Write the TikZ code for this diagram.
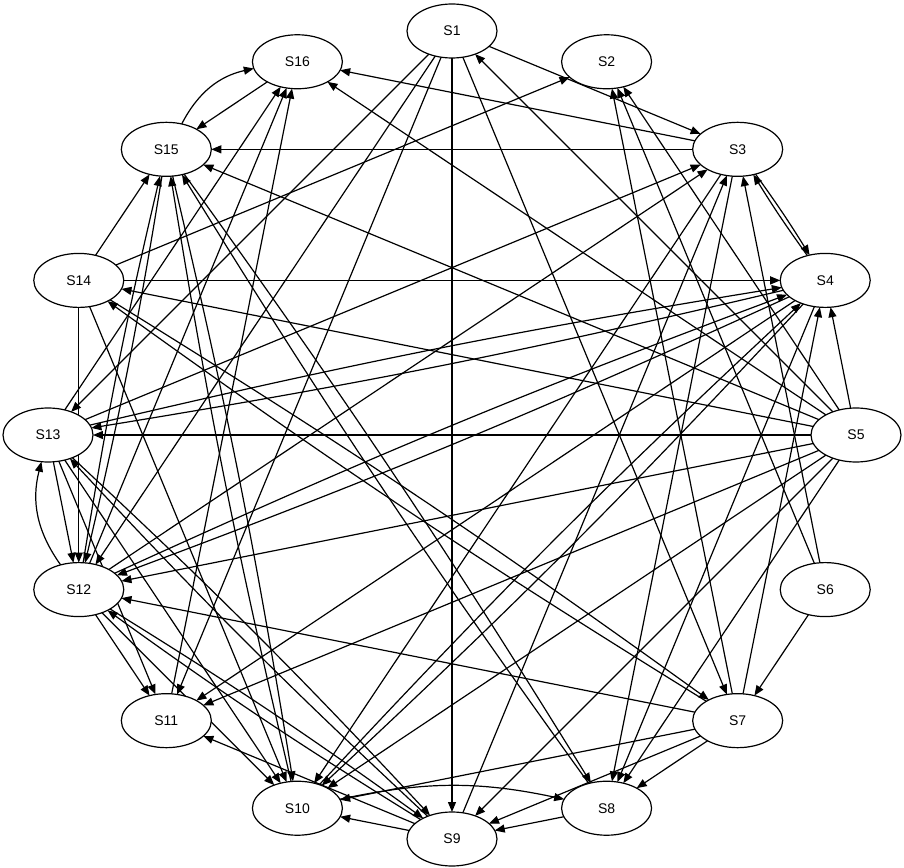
\documentclass[tikz,border=0pt]{standalone}
\usepackage{fontspec}
\setmainfont{Liberation Sans}
\usetikzlibrary{arrows.meta,shapes.geometric}
\begin{document}
\begin{tikzpicture}[x=0.75pt,y=0.75pt,
  shp/.style={ellipse,minimum width=67.5pt,minimum height=40.5pt,inner sep=0pt,outer sep=0pt},
  st/.style={shp,draw,line width=0.9pt,fill=white,font=\fontsize{10.5}{12}\selectfont},
  e/.style={line width=0.9pt,-{Triangle[length=7.5pt,width=6pt]}}]
\useasboundingbox (-452,-433) rectangle (452,435);
\fill[white] (-452,-433) rectangle (452,435);
% node outlines used as connector anchors
\foreach \k in {1,...,16}{\node[shp] (S\k) at ({90-22.5*(\k-1)}:404) {};}
% straight connectors
\foreach \a/\b in {1/3,1/9,1/7,5/1,1/13,1/12,1/11,
 14/2,7/2,6/2,5/2,
 3/16,5/16,16/15,13/16,12/16,11/16,
 3/15,5/15,14/15,
 13/3,12/3,9/3,3/10,3/8,6/3,
 14/4,7/4,5/4,
 4/11,4/8,
 5/13,5/14,5/12,5/11,5/10,5/9,5/8,
 6/7,14/12,13/12,13/11,12/11,
 14/10,7/12,7/10,7/8,7/9,
 9/10,8/9,9/11,12/10,13/10}
{\draw[e] (S\a) -- (S\b);}
% pairs in both directions
\foreach \a/\b in {15/8,8/15,12/15,15/12,3/4,4/3,12/4,4/12,13/4,4/13,
 14/7,7/14,13/9,9/13,12/9,9/12,10/15,15/10,10/4,4/10}
{\draw[e] (S\a) to[bend left=2] (S\b);}
% curved connectors
\draw[e] (S15) to[bend left=25] (S16);
\draw[e] (S12) to[bend left=25] (S13);
\draw[e] (S10) to[bend left=12] (S8);
% nodes on top
\foreach \k in {1,...,16}{\node[st] (T\k) at ({90-22.5*(\k-1)}:404) {S\k};}
\end{tikzpicture}
\end{document}
